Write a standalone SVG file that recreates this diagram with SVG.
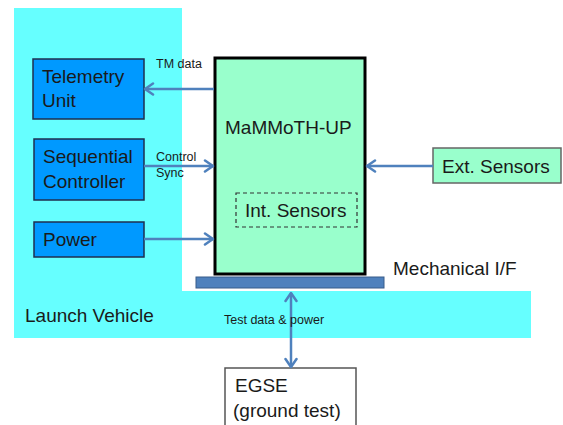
<svg xmlns="http://www.w3.org/2000/svg" width="563" height="425" viewBox="0 0 563 425">
<style>
  .big { font-family: "Liberation Sans", Arial, sans-serif; font-size: 19px; fill: #1a1a1a; }
  .small { font-family: "Liberation Sans", Arial, sans-serif; font-size: 12.5px; fill: #1a1a1a; }
  .lv { fill: #66FFFF; }
  .blue { fill: #0099FF; stroke: #1F2F4F; stroke-width: 1.5; }
  .mint { fill: #99FFCC; }
  .conn { stroke: #4F81BD; stroke-width: 2.5; fill: none; }
</style>
<defs>
  <marker id="arr" markerUnits="userSpaceOnUse" markerWidth="14" markerHeight="14" viewBox="0 0 14 14" refX="11" refY="7" orient="auto-start-reverse">
    <path d="M3,1.5 L11,7 L3,12.5" fill="none" stroke="#4F81BD" stroke-width="2.5" stroke-linecap="round" stroke-linejoin="round"/>
  </marker>
</defs>
<rect width="563" height="425" fill="#ffffff"/>
<g id="launch-vehicle">
  <rect class="lv" x="14" y="8" width="168" height="330"/>
  <rect class="lv" x="14" y="291" width="517" height="47"/>
  <text class="big" x="25" y="322" font-size="18.5">Launch Vehicle</text>
</g>
<g id="telemetry-unit">
  <rect class="blue" x="33" y="59" width="111" height="60"/>
  <text class="big" x="42" y="83">Telemetry</text>
  <text class="big" x="42" y="107">Unit</text>
</g>
<g id="sequential-controller">
  <rect class="blue" x="34" y="139" width="110" height="61"/>
  <text class="big" x="43" y="163">Sequential</text>
  <text class="big" x="43" y="188">Controller</text>
</g>
<g id="power">
  <rect class="blue" x="34" y="222" width="110" height="35"/>
  <text class="big" x="43" y="246">Power</text>
</g>
<g id="mechanical-if">
  <rect x="196" y="277" width="188" height="11" fill="#4F81BD" stroke="#385D8A" stroke-width="1"/>
  <text class="big" x="393" y="275">Mechanical I/F</text>
</g>
<g id="mammoth-up">
  <rect class="mint" x="215" y="58" width="150" height="216" stroke="#000" stroke-width="3"/>
  <text class="big" x="225" y="134">MaMMoTH-UP</text>
</g>
<g id="int-sensors">
  <rect x="236" y="193" width="121" height="34" fill="none" stroke="#333" stroke-width="1.2" stroke-dasharray="4 3"/>
  <text class="big" x="245" y="217" font-size="18.5">Int. Sensors</text>
</g>
<g id="ext-sensors">
  <rect class="mint" x="433" y="148" width="128" height="35" stroke="#666" stroke-width="1.5"/>
  <text class="big" x="442" y="173" font-size="18.5">Ext. Sensors</text>
</g>
<g id="egse">
  <rect x="225" y="368" width="131" height="70" fill="#fff" stroke="#555" stroke-width="1.5"/>
  <text class="big" x="235" y="392">EGSE</text>
  <text class="big" x="233" y="417">(ground test)</text>
</g>
<g id="connectors">
  <line class="conn" x1="214" y1="89" x2="145" y2="89" marker-end="url(#arr)"/>
  <line class="conn" x1="144" y1="166" x2="213" y2="166" marker-end="url(#arr)"/>
  <line class="conn" x1="144" y1="239" x2="213" y2="239" marker-end="url(#arr)"/>
  <line class="conn" x1="433" y1="166" x2="367" y2="166" marker-end="url(#arr)"/>
  <line class="conn" x1="291" y1="293" x2="291" y2="367" marker-start="url(#arr)" marker-end="url(#arr)"/>
  <text class="small" x="156" y="68">TM data</text>
  <text class="small" x="156" y="161">Control</text>
  <text class="small" x="156" y="177">Sync</text>
  <text class="small" x="224" y="324">Test data &amp; power</text>
</g>
</svg>
